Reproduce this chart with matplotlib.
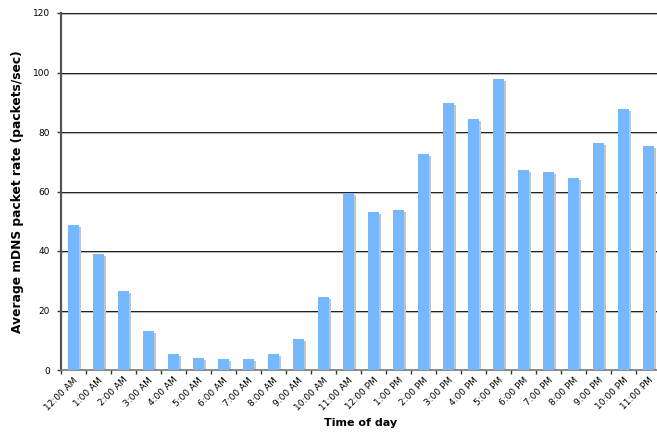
import numpy as np
import matplotlib.pyplot as plt

hours = ["12:00 AM", "1:00 AM", "2:00 AM", "3:00 AM", "4:00 AM", "5:00 AM",
         "6:00 AM", "7:00 AM", "8:00 AM", "9:00 AM", "10:00 AM", "11:00 AM",
         "12:00 PM", "1:00 PM", "2:00 PM", "3:00 PM", "4:00 PM", "5:00 PM",
         "6:00 PM", "7:00 PM", "8:00 PM", "9:00 PM", "10:00 PM", "11:00 PM"]
rate = [48.8, 39.0, 26.6, 13.1, 5.4, 4.0, 3.7, 3.7, 5.4, 10.4, 24.6, 59.5,
        53.2, 53.8, 72.7, 89.8, 84.4, 97.9, 67.3, 66.6, 64.6, 76.4, 87.8, 75.4]
yticks = [0, 20, 40, 60, 80, 100, 120]

plt.rcParams['font.family'] = ['DejaVu Sans']

fig = plt.figure(figsize=(6.57, 4.43), dpi=100)
ax = fig.add_axes([61/657, 73/443, 600/657, 357/443])

x = np.arange(len(rate))
rate = np.array(rate)

# gridlines with a soft gray shadow underneath
for v in yticks[1:]:
    ax.axhline(v - 0.4, color="#b8b8b8", lw=0.8, zorder=0)
    ax.axhline(v, color="#1a1a1a", lw=0.7, zorder=0)

# bar shadow, then bar
ax.bar(x + 0.09, rate - 0.7, width=0.44, color="#c4c4c4", zorder=2)
ax.bar(x, rate, width=0.44, color="#75b8fe", zorder=3)

ax.set_xlim(-0.5, len(rate) - 0.5)
ax.set_ylim(0, 120)
ax.set_yticks(yticks)
ax.set_xticks(x - 0.5, minor=False)
ax.set_xticklabels([])
ax.set_xticks(x, minor=True)
ax.set_xticklabels(hours, minor=True, rotation=45, ha="right",
                   rotation_mode="anchor", fontsize=6.5)
ax.tick_params(axis="x", which="minor", length=0, pad=4)
ax.tick_params(axis="x", which="major", length=3, width=1, color="#333333")
ax.tick_params(axis="y", length=3, width=1, color="#333333", labelsize=6.5, pad=5)

for s in ["top", "right"]:
    ax.spines[s].set_visible(False)
ax.spines["left"].set_color("#555555")
ax.spines["left"].set_linewidth(1.6)
ax.spines["bottom"].set_color("#777777")
ax.spines["bottom"].set_linewidth(1.2)

ax.set_ylabel("Average mDNS packet rate (packets/sec)", fontsize=8.8, fontweight="bold", labelpad=6)
ax.set_xlabel("Time of day", fontsize=8, fontweight="bold", labelpad=4)

fig.savefig("out.png", dpi=100)
